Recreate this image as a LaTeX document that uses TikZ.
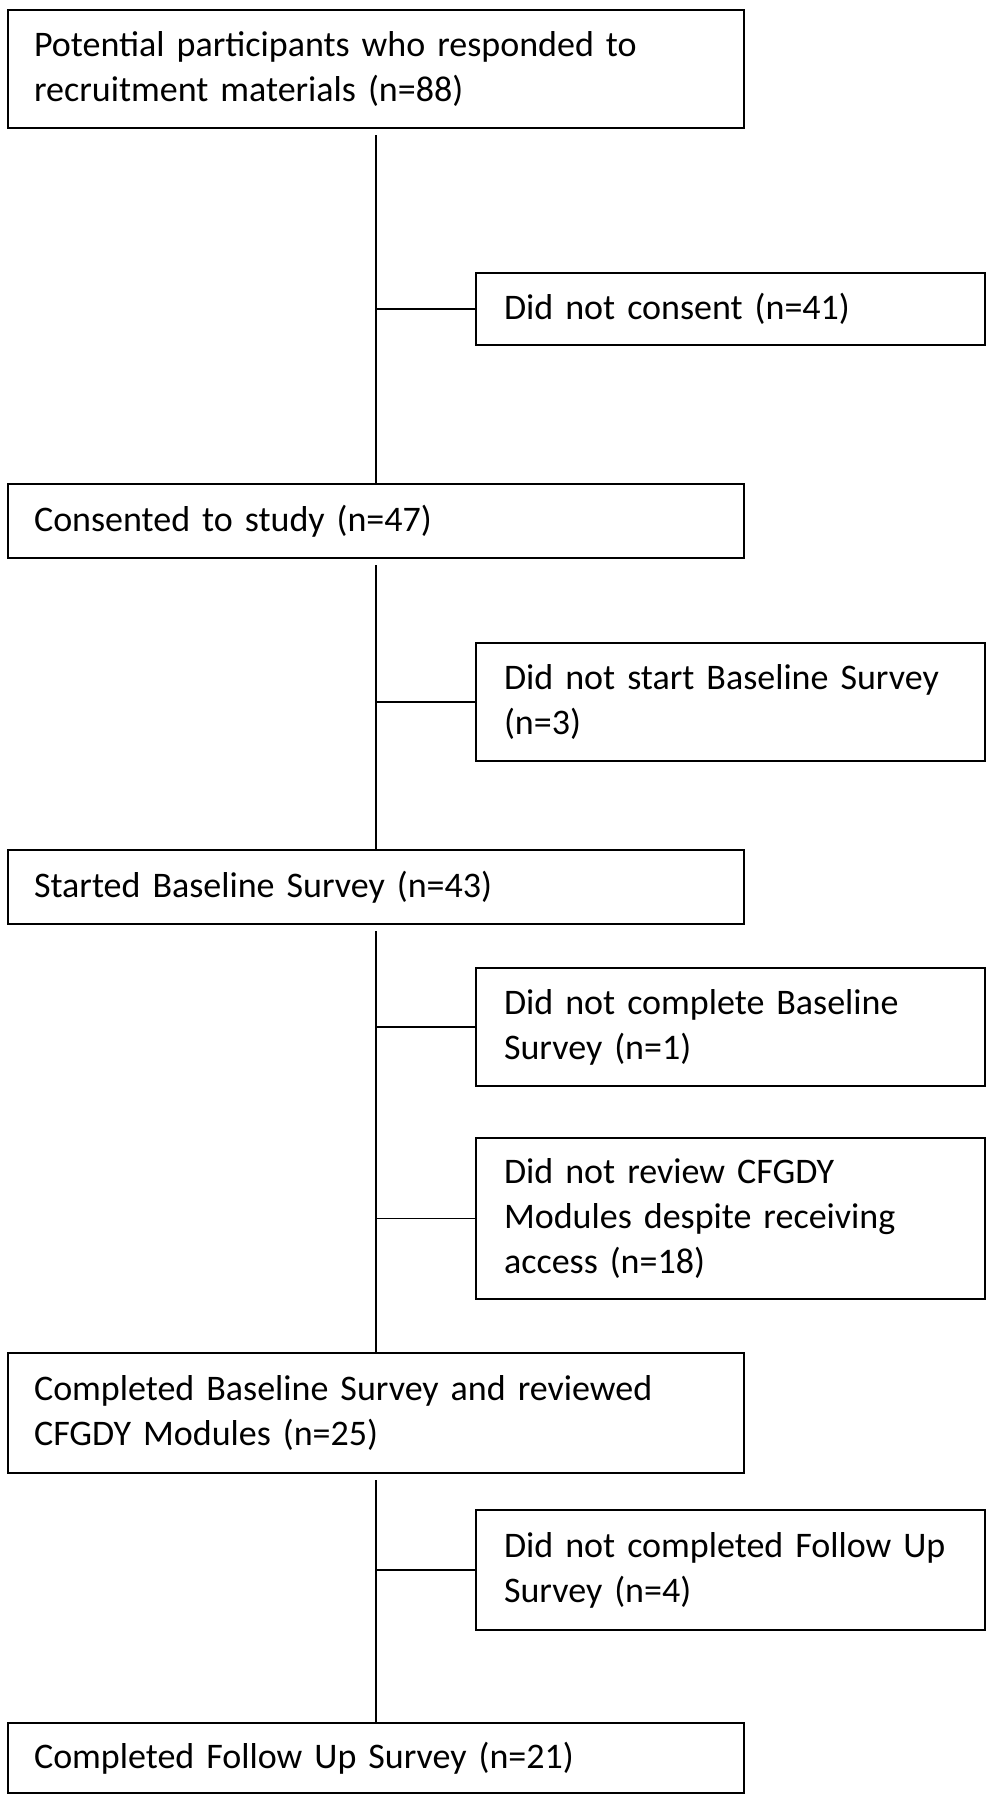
\documentclass[tikz,border=0pt]{standalone}
\usepackage{fontspec}
\setmainfont{Carlito}

\begin{document}
\begin{tikzpicture}[
  x=0.75pt, y=-0.75pt,
  every node/.style={draw,rectangle,line width=1.6pt,anchor=north west,align=left,
    inner ysep=0pt,font=\fontsize{27}{34}\selectfont},
  stage/.style={inner xsep=19.5pt,text width=513pt},
  drop/.style={inner xsep=21pt,text width=339.75pt},
  link/.style={line width=1.3pt}]
\fill[white] (0,0) rectangle (993,1800);
\useasboundingbox (0,0) rectangle (993,1800);
\node[stage,minimum height=88.5pt] (recruit) at (7,9) {Potential participants who responded to\\recruitment materials (n=88)};
\node[drop,minimum height=54pt] (noconsent) at (475,272) {Did not consent (n=41)};
\node[stage,minimum height=55.5pt] (consent) at (7,483) {Consented to study (n=47)};
\node[drop,minimum height=88.5pt] (nostart) at (475,642) {Did not start Baseline Survey\\(n=3)};
\node[stage,minimum height=55.5pt] (started) at (7,849) {Started Baseline Survey (n=43)};
\node[drop,minimum height=88.5pt] (nocomplete) at (475,967) {Did not complete Baseline\\Survey (n=1)};
\node[drop,minimum height=120.75pt] (noreview) at (475,1137) {Did not review CFGDY\\Modules despite receiving\\access (n=18)};
\node[stage,minimum height=90pt] (reviewed) at (7,1352) {Completed Baseline Survey and reviewed\\CFGDY Modules (n=25)};
\node[drop,minimum height=90pt] (nofollow) at (475,1509) {Did not completed Follow Up\\Survey (n=4)};
\node[stage,minimum height=52.5pt] (followup) at (7,1722) {Completed Follow Up Survey (n=21)};
\foreach \a/\b in {recruit/consent,consent/started,started/reviewed,reviewed/followup}
  \draw[link,shorten <=4.5pt] (\a.south) -- (\b.north);
\foreach \d in {noconsent,nostart,nocomplete,noreview,nofollow}
  \draw[link] (\d.west) -- (\d.west -| recruit.south);
\end{tikzpicture}
\end{document}
